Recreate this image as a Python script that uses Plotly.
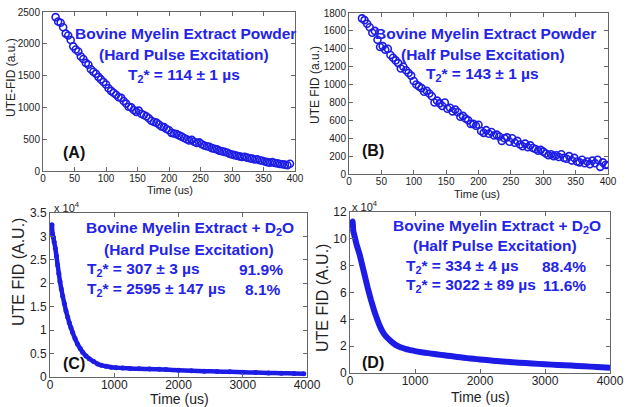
import plotly.graph_objects as go

# ---------------- data ----------------
# Panel A: Bovine myelin extract powder, hard pulse
time_a = [20, 24, 28, 32, 36, 40, 44, 48, 52, 56, 60, 64, 68, 72, 76, 80, 84, 88, 92, 96,
          100, 104, 108, 112, 116, 120, 124, 128, 132, 136, 140, 144, 148, 152, 156, 160,
          164, 168, 172, 176, 180, 184, 188, 192, 196, 200, 204, 208, 212, 216, 220, 224,
          228, 232, 236, 240, 244, 248, 252, 256, 260, 264, 268, 272, 276, 280, 284, 288,
          292, 296, 300, 304, 308, 312, 316, 320, 324, 328, 332, 336, 340, 344, 348, 352,
          356, 360, 364, 368, 372, 376, 380, 384, 388, 392]
fid_a = [2420, 2350, 2330, 2260, 2160, 2130, 2060, 1960, 1910, 1880, 1800, 1760, 1700, 1670,
         1600, 1560, 1530, 1480, 1440, 1400, 1360, 1300, 1260, 1230, 1200, 1160, 1150, 1100,
         1060, 1010, 1000, 960, 930, 950, 900, 880, 860, 830, 790, 770, 760, 730, 700, 690,
         660, 640, 600, 590, 580, 560, 540, 520, 500, 480, 490, 460, 440, 450, 420, 400, 390,
         380, 360, 350, 340, 320, 310, 300, 290, 270, 260, 250, 240, 230, 220, 225, 210, 200,
         195, 180, 185, 170, 160, 150, 140, 130, 140, 125, 120, 110, 105, 100, 90, 115]

# Panel B: Bovine myelin extract powder, half pulse
time_b = [20, 24, 28, 32, 36, 40, 44, 48, 52, 56, 60, 64, 68, 72, 76, 80, 84, 88, 92, 96,
          100, 104, 108, 112, 116, 120, 124, 128, 132, 136, 140, 144, 148, 152, 156, 160,
          164, 168, 172, 176, 180, 184, 188, 192, 196, 200, 204, 208, 212, 216, 220, 224,
          228, 232, 236, 240, 244, 248, 252, 256, 260, 264, 268, 272, 276, 280, 284, 288,
          292, 296, 300, 304, 308, 312, 316, 320, 324, 328, 332, 336, 340, 344, 348, 352,
          356, 360, 364, 368, 372, 376, 380, 384, 388, 392, 396, 400]
fid_b = [1740, 1720, 1680, 1640, 1580, 1600, 1500, 1420, 1430, 1390, 1400, 1330, 1300, 1270,
         1240, 1180, 1200, 1160, 1130, 1100, 1040, 1000, 980, 960, 920, 930, 900, 870, 800,
         820, 790, 760, 800, 730, 740, 700, 720, 690, 640, 650, 620, 600, 560, 560, 540, 550,
         480, 460, 490, 450, 470, 430, 440, 420, 370, 400, 410, 360, 400, 350, 370, 330, 310,
         340, 300, 320, 290, 280, 260, 270, 250, 230, 210, 220, 200, 210, 190, 220, 180, 170,
         200, 150, 180, 140, 130, 160, 120, 140, 110, 150, 120, 160, 80, 130, 100, 100]

# Panel C: extract + D2O, hard pulse (x 10^4)
time_c = [30, 40, 52, 65, 83, 100, 119, 137, 155, 176, 197, 223, 249, 275, 300, 326, 352,
          390, 430, 470, 508, 560, 611, 680, 741, 800, 870, 950, 1030, 1130, 1250, 1389,
          1550, 1700, 1803, 2000, 2200, 2400, 2600, 2800, 3000, 3200, 3400, 3600, 3800, 3950]
fid_c = [3.25, 3.05, 2.98, 2.88, 2.75, 2.58, 2.39, 2.21, 2.04, 1.88, 1.73, 1.57, 1.41, 1.28,
         1.16, 1.05, 0.95, 0.82, 0.70, 0.61, 0.53, 0.45, 0.39, 0.33, 0.28, 0.25, 0.23, 0.21,
         0.20, 0.19, 0.18, 0.175, 0.17, 0.163, 0.158, 0.145, 0.135, 0.125, 0.118, 0.11,
         0.10, 0.095, 0.088, 0.082, 0.076, 0.072]

# Panel D: extract + D2O, half pulse (x 10^4)
time_d = [25, 40, 50, 75, 100, 125, 150, 175, 200, 225, 250, 275, 300, 325, 350, 375, 400,
          450, 500, 550, 600, 650, 700, 750, 800, 850, 900, 950, 1000, 1100, 1200, 1300,
          1400, 1500, 1600, 1700, 1800, 1900, 2000, 2200, 2400, 2600, 2800, 3000, 3200,
          3400, 3600, 3800, 4000]
fid_d = [10.8, 11.3, 10.6, 10.1, 9.6, 9.2, 8.8, 8.3, 7.8, 7.3, 6.8, 6.3, 5.85, 5.4, 5.0,
         4.6, 4.25, 3.6, 3.1, 2.75, 2.5, 2.28, 2.1, 1.98, 1.88, 1.8, 1.74, 1.68, 1.63, 1.55,
         1.48, 1.41, 1.35, 1.29, 1.23, 1.17, 1.11, 1.06, 1.01, 0.92, 0.84, 0.77, 0.71, 0.65,
         0.60, 0.55, 0.50, 0.45, 0.40]

ticks_a_x = [0, 50, 100, 150, 200, 250, 300, 350, 400]
ticks_a_y = [0, 500, 1000, 1500, 2000, 2500]
ticks_b_y = [0, 200, 400, 600, 800, 1000, 1200, 1400, 1600, 1800]
ticks_c_x = [0, 1000, 2000, 3000, 4000]
ticks_c_y = [0, 0.5, 1, 1.5, 2, 2.5, 3, 3.5]
ticks_c_ylab = ["0", "0.5", "1", "1.5", "2", "2.5", "3", "3.5"]
ticks_d_y = [0, 2, 4, 6, 8, 10, 12]

# ---------------- figure ----------------
W, H = 629, 407
BLUE = "#1c1ce6"
TXT = "#2424e8"
DARK = "#222222"
FONT = "Liberation Sans, Arial, sans-serif"


def px(x):
    return x / W


def py(y):
    return 1 - y / H


fig = go.Figure()

fig.add_trace(go.Scatter(x=time_a, y=fid_a, mode="markers", xaxis="x", yaxis="y",
                         marker=dict(symbol="circle-open", size=7, color=BLUE,
                                     line=dict(width=1.6, color=BLUE)),
                         showlegend=False))
fig.add_trace(go.Scatter(x=time_b, y=fid_b, mode="markers", xaxis="x2", yaxis="y2",
                         marker=dict(symbol="circle-open", size=7, color=BLUE,
                                     line=dict(width=1.6, color=BLUE)),
                         showlegend=False))
fig.add_trace(go.Scatter(x=time_c, y=fid_c, mode="lines+markers", xaxis="x3", yaxis="y3",
                         line=dict(color=BLUE, width=4.5, shape="spline", smoothing=0.6),
                         marker=dict(symbol="circle", size=5, color=BLUE),
                         showlegend=False))
fig.add_trace(go.Scatter(x=time_d, y=fid_d, mode="lines", xaxis="x4", yaxis="y4",
                         line=dict(color=BLUE, width=6, shape="spline", smoothing=0.6),
                         showlegend=False))


def ax(domain, rng, anchor, tickvals, size, ticktext=None, standoff=0):
    d = dict(domain=domain, range=rng, anchor=anchor, tickvals=tickvals,
             showline=True, linecolor="#666666", linewidth=1, mirror="ticks",
             ticks="inside", ticklen=4, tickcolor="#666666", showgrid=False,
             zeroline=False, automargin=False, ticklabelstandoff=standoff,
             tickfont=dict(family=FONT, size=size, color=DARK))
    if ticktext is not None:
        d["ticktext"] = ticktext
    return d


fig.update_layout(
    template="none",
    xaxis=ax([px(43), px(295)], [0, 400], "y", ticks_a_x, 10, standoff=-2),
    yaxis=ax([py(171), py(12)], [0, 2500], "x", ticks_a_y, 10),
    xaxis2=ax([px(349), px(608)], [0, 400], "y2", ticks_a_x, 10, standoff=-2),
    yaxis2=ax([py(174), py(13)], [0, 1800], "x2", ticks_b_y, 10),
    xaxis3=ax([px(50), px(307)], [0, 4000], "y3", ticks_c_x, 12, standoff=-3),
    yaxis3=ax([py(377), py(213)], [0, 3.5], "x3", ticks_c_y, 12, ticks_c_ylab),
    xaxis4=ax([px(350), px(610)], [0, 4000], "y4", ticks_c_x, 12, standoff=-3),
    yaxis4=ax([py(373), py(212)], [0, 12], "x4", ticks_d_y, 12),
)

annots = []


def txt(x, y, text, size=15.5, color=TXT, xanchor="center", angle=0):
    annots.append(dict(x=px(x), y=py(y), xref="paper", yref="paper", text=text,
                       showarrow=False, xanchor=xanchor, yanchor="middle",
                       textangle=angle,
                       font=dict(family=FONT, size=size, color=color)))


# axis titles
txt(170, 190, "Time (us)", size=11, color=DARK)
txt(11, 78, "UTE-FID (a.u.)", size=12, color=DARK, angle=-90)
txt(477, 194, "Time (us)", size=11, color=DARK)
txt(315, 85, "UTE FID (a.u.)", size=12, color=DARK, angle=-90)
txt(179, 399, "Time (us)", size=14, color=DARK)
txt(18, 272, "UTE FID (A.U.)", size=16, color=DARK, angle=-90)
txt(481, 397, "Time (us)", size=14, color=DARK)
txt(322, 298, "UTE FID (A.U.)", size=16, color=DARK, angle=-90)

T2 = "T<sub>2</sub>* = "
# Panel A
txt(185, 33, "<b>Bovine Myelin Extract Powder</b>")
txt(184, 55, "<b>(Hard Pulse Excitation)</b>")
txt(184, 75, "<b>" + T2 + "114 ± 1 µs</b>")
txt(74, 152, "<b>(A)</b>", size=16, color="#111111")
# Panel B
txt(485, 33, "<b>Bovine Myelin Extract Powder</b>")
txt(483, 55, "<b>(Half Pulse Excitation)</b>")
txt(483, 74, "<b>" + T2 + "143 ± 1 µs</b>")
txt(373, 150, "<b>(B)</b>", size=16, color="#111111")
# Panel C
txt(190, 228, "<b>Bovine Myelin Extract + D<sub>2</sub>O</b>")
txt(189, 249, "<b>(Hard Pulse Excitation)</b>")
txt(85, 269, "<b>" + T2 + "307 ± 3 µs</b>", xanchor="left")
txt(285, 269, "<b>91.9%</b>", xanchor="right")
txt(85, 289, "<b>" + T2 + "2595 ± 147 µs</b>", xanchor="left")
txt(283, 289, "<b>8.1%</b>", xanchor="right")
txt(74, 363, "<b>(C)</b>", size=16, color="#111111")
txt(52, 207, "x 10<sup>4</sup>", size=11, color=DARK, xanchor="left")
# Panel D
txt(497, 226, "<b>Bovine Myelin Extract + D<sub>2</sub>O</b>")
txt(495, 245, "<b>(Half Pulse Excitation)</b>")
txt(404, 266, "<b>" + T2 + "334 ± 4 µs</b>", xanchor="left")
txt(588, 266, "<b>88.4%</b>", xanchor="right")
txt(404, 285, "<b>" + T2 + "3022 ± 89 µs</b>", xanchor="left")
txt(588, 285, "<b>11.6%</b>", xanchor="right")
txt(373, 362, "<b>(D)</b>", size=16, color="#111111")
txt(350, 206, "x 10<sup>4</sup>", size=11, color=DARK, xanchor="left")

fig.update_layout(annotations=annots, width=W, height=H,
                  margin=dict(l=0, r=0, t=0, b=0),
                  paper_bgcolor="white", plot_bgcolor="white",
                  font=dict(family=FONT), showlegend=False)

fig.write_html("out.html",
               config={"displayModeBar": False},
               post_script="document.body.style.margin='0px';"
                           "document.body.style.overflow='hidden';")
